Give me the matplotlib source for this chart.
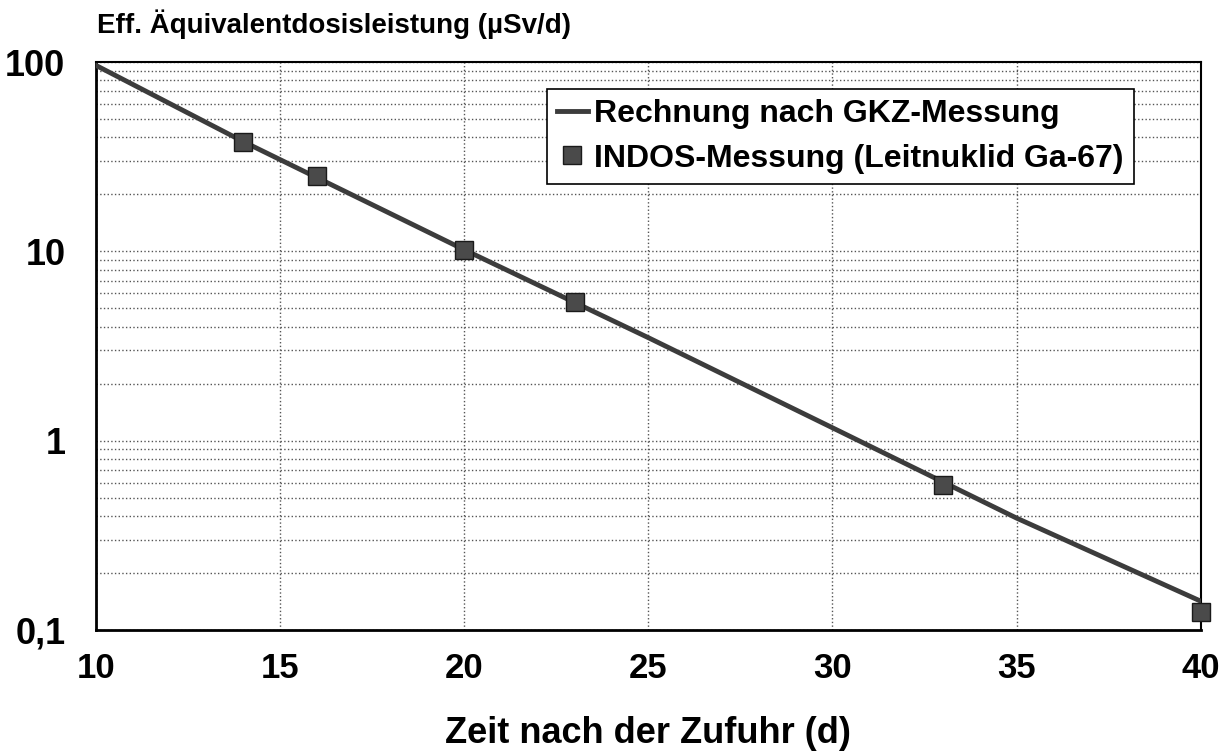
import matplotlib.pyplot as plt
from matplotlib.ticker import FixedLocator, LogLocator, NullFormatter

# Rechnung nach GKZ-Messung (Verlauf)
t_calc = [10, 14, 20, 25, 30, 35, 40]
dose_calc = [96, 38, 10.2, 3.5, 1.17, 0.39, 0.142]

# INDOS-Messung (Leitnuklid Ga-67)
t_indos = [14, 16, 20, 23, 33, 40]
dose_indos = [38, 25, 10.2, 5.4, 0.58, 0.125]

y_ticks = [0.1, 1, 10, 100]
y_labels = ["0,1", "1", "10", "100"]
x_ticks = [10, 15, 20, 25, 30, 35, 40]

plt.rcParams['font.family'] = ['Liberation Sans', 'DejaVu Sans']

fig = plt.figure(figsize=(12.24, 7.51), dpi=100)
ax = fig.add_axes([0.0784, 0.1611, 0.9026, 0.7563])

ax.plot(t_calc, dose_calc, color='#3c3c3c', linewidth=3.5,
        label="Rechnung nach GKZ-Messung", zorder=3)
ax.plot(t_indos, dose_indos, linestyle='none', marker='s', markersize=13,
        markerfacecolor='#4a4a4a', markeredgecolor='#1a1a1a', markeredgewidth=1,
        label="INDOS-Messung (Leitnuklid Ga-67)", zorder=4, clip_on=False)

ax.set_yscale('log')
ax.set_xlim(10, 40)
ax.set_ylim(0.1, 100)

ax.yaxis.set_major_locator(FixedLocator(y_ticks))
ax.set_yticklabels(y_labels)
ax.yaxis.set_minor_locator(LogLocator(base=10, subs=range(2, 10)))
ax.yaxis.set_minor_formatter(NullFormatter())
ax.xaxis.set_major_locator(FixedLocator(x_ticks))

ax.grid(True, which='major', axis='x', linestyle=':', color='#555555', linewidth=1)
ax.grid(True, which='both', axis='y', linestyle=':', color='#555555', linewidth=1)
ax.set_axisbelow(True)

ax.tick_params(axis='both', which='both', length=0)
ax.tick_params(axis='y', pad=22, labelsize=26)
ax.tick_params(axis='x', pad=16, labelsize=25)
for lab in ax.get_xticklabels() + ax.get_yticklabels():
    lab.set_fontweight('bold')

for side in ['left', 'bottom']:
    ax.spines[side].set_linewidth(2)
for side in ['top', 'right']:
    ax.spines[side].set_linewidth(1.5)

ax.set_xlabel("Zeit nach der Zufuhr (d)", fontsize=26, fontweight='bold', labelpad=22)
fig.text(0.079, 0.956, "Eff. Äquivalentdosisleistung (µSv/d)", fontsize=20,
         fontweight='bold', ha='left', va='baseline')

leg = ax.legend(loc='upper left', bbox_to_anchor=(0.408, 0.953),
                prop={'weight': 'bold', 'size': 23},
                handlelength=0.95, handletextpad=0.2, borderpad=0.33,
                labelspacing=0.45, borderaxespad=0,
                fancybox=False, framealpha=1, edgecolor='black')
leg.get_frame().set_linewidth(1.2)

fig.savefig("out.png", dpi=100)
